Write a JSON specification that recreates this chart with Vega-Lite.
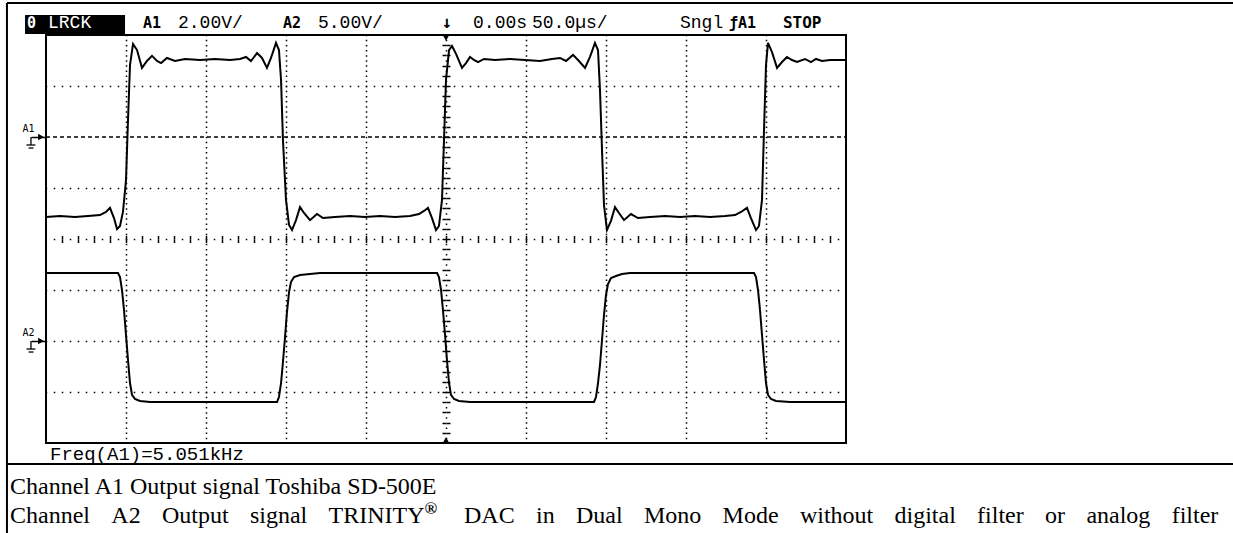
{
  "$schema": "https://vega.github.io/schema/vega-lite/v6.json",
  "width": 800,
  "height": 408,
  "autosize": "none",
  "padding": {"left": 46, "top": 35, "right": 387, "bottom": 90},
  "background": "white",
  "data": {"values": [{}]},
  "config": {
    "view": {"stroke": "black", "strokeWidth": 2},
    "axis": {"title": null, "labels": false, "ticks": false, "domain": false, "grid": false}
  },
  "datasets": {
    "a1": [
      {"t": -250, "v": -3.14}, {"t": -241.25, "v": -3.1}, {"t": -231.9, "v": -3.14}, {"t": -223.75, "v": -3.1},
      {"t": -216.25, "v": -3.06}, {"t": -212.5, "v": -2.94}, {"t": -210, "v": -2.78}, {"t": -207.5, "v": -3.18},
      {"t": -205.6, "v": -3.61}, {"t": -203.75, "v": -3.49}, {"t": -201.9, "v": -2.94}, {"t": -200, "v": -1.69},
      {"t": -198.75, "v": 0.67}, {"t": -197.5, "v": 2.82}, {"t": -195.6, "v": 3.65}, {"t": -193.1, "v": 3.41},
      {"t": -190, "v": 2.71}, {"t": -186.9, "v": 2.98}, {"t": -183.75, "v": 3.18}, {"t": -180.6, "v": 2.98},
      {"t": -178.1, "v": 2.9}, {"t": -174.4, "v": 3.1}, {"t": -169.4, "v": 2.98}, {"t": -163.1, "v": 3.06},
      {"t": -153.75, "v": 3.02}, {"t": -144.4, "v": 3.06}, {"t": -135, "v": 3.02}, {"t": -128.75, "v": 3.06},
      {"t": -125, "v": 3.14}, {"t": -121.9, "v": 2.98}, {"t": -118.1, "v": 3.29}, {"t": -115, "v": 3.1},
      {"t": -111.9, "v": 2.71}, {"t": -109.4, "v": 3.1}, {"t": -106.25, "v": 3.69}, {"t": -104.4, "v": 3.41},
      {"t": -103.1, "v": 2.24}, {"t": -101.9, "v": -0.12}, {"t": -100, "v": -2.47}, {"t": -98.1, "v": -3.45},
      {"t": -96.25, "v": -3.65}, {"t": -93.75, "v": -3.26}, {"t": -91.25, "v": -2.75}, {"t": -88.75, "v": -2.98},
      {"t": -85, "v": -3.26}, {"t": -80.6, "v": -3.02}, {"t": -76.9, "v": -3.18}, {"t": -69.4, "v": -3.14},
      {"t": -60, "v": -3.1}, {"t": -50.6, "v": -3.14}, {"t": -41.25, "v": -3.1}, {"t": -31.9, "v": -3.14},
      {"t": -22.5, "v": -3.1}, {"t": -16.9, "v": -3.02}, {"t": -13.75, "v": -2.9}, {"t": -11.25, "v": -2.78},
      {"t": -8.75, "v": -3.18}, {"t": -6.25, "v": -3.65}, {"t": -4.4, "v": -3.49}, {"t": -2.5, "v": -2.47},
      {"t": -1.25, "v": -0.12}, {"t": 0, "v": 2.24}, {"t": 1.9, "v": 3.41}, {"t": 3.75, "v": 3.57},
      {"t": 6.25, "v": 3.26}, {"t": 10, "v": 2.71}, {"t": 12.5, "v": 2.9}, {"t": 15, "v": 3.14},
      {"t": 17.5, "v": 3.02}, {"t": 20, "v": 2.94}, {"t": 23.75, "v": 3.06}, {"t": 30.6, "v": 3.02},
      {"t": 40, "v": 3.06}, {"t": 49.4, "v": 3.02}, {"t": 58.75, "v": 2.98}, {"t": 66.25, "v": 3.06},
      {"t": 71.25, "v": 3.1}, {"t": 75, "v": 2.98}, {"t": 79.4, "v": 3.22}, {"t": 83.1, "v": 2.98},
      {"t": 86.9, "v": 2.71}, {"t": 90, "v": 3.14}, {"t": 93.1, "v": 3.69}, {"t": 95, "v": 3.41},
      {"t": 96.25, "v": 1.84}, {"t": 97.5, "v": -0.51}, {"t": 98.75, "v": -2.67}, {"t": 100.6, "v": -3.65},
      {"t": 103.1, "v": -3.29}, {"t": 105.6, "v": -2.75}, {"t": 108.1, "v": -2.98}, {"t": 111.25, "v": -3.26},
      {"t": 115.6, "v": -3.02}, {"t": 120, "v": -3.18}, {"t": 127.5, "v": -3.14}, {"t": 136.9, "v": -3.1},
      {"t": 146.25, "v": -3.14}, {"t": 155.6, "v": -3.1}, {"t": 165, "v": -3.14}, {"t": 174.4, "v": -3.1},
      {"t": 180.6, "v": -3.06}, {"t": 184.4, "v": -2.94}, {"t": 188.1, "v": -2.78}, {"t": 190.6, "v": -3.18},
      {"t": 193.75, "v": -3.65}, {"t": 195.6, "v": -3.49}, {"t": 197.5, "v": -2.47}, {"t": 198.75, "v": 0.27},
      {"t": 200, "v": 2.82}, {"t": 201.25, "v": 3.69}, {"t": 203.75, "v": 3.33}, {"t": 206.9, "v": 2.71},
      {"t": 210, "v": 2.94}, {"t": 213.1, "v": 3.14}, {"t": 216.25, "v": 3.02}, {"t": 219.4, "v": 2.94},
      {"t": 224.4, "v": 3.06}, {"t": 228.1, "v": 2.94}, {"t": 231.25, "v": 3.06}, {"t": 235, "v": 2.98},
      {"t": 240, "v": 3.02}, {"t": 250, "v": 3.02}
    ],
    "a2": [
      {"t": -250, "v": 6.67}, {"t": -228.75, "v": 6.67}, {"t": -205, "v": 6.67}, {"t": -203.75, "v": 6.27},
      {"t": -202.5, "v": 5.0}, {"t": -201.25, "v": 3.04}, {"t": -200, "v": 0.59}, {"t": -198.75, "v": -1.86},
      {"t": -197.5, "v": -4.12}, {"t": -196.25, "v": -5.29}, {"t": -194.4, "v": -5.69}, {"t": -191.25, "v": -5.88},
      {"t": -185, "v": -5.98}, {"t": -153.75, "v": -5.98}, {"t": -122.5, "v": -5.98}, {"t": -105.6, "v": -5.98},
      {"t": -104.4, "v": -5.49}, {"t": -103.1, "v": -4.12}, {"t": -101.9, "v": -2.06}, {"t": -100.6, "v": 0.39},
      {"t": -99.4, "v": 2.84}, {"t": -98.1, "v": 4.8}, {"t": -96.9, "v": 5.78}, {"t": -95, "v": 6.27},
      {"t": -91.25, "v": 6.47}, {"t": -85, "v": 6.57}, {"t": -78.75, "v": 6.67}, {"t": -41.25, "v": 6.67},
      {"t": -5.6, "v": 6.67}, {"t": -4.4, "v": 6.27}, {"t": -3.1, "v": 5.0}, {"t": -1.9, "v": 3.04},
      {"t": -0.6, "v": 0.59}, {"t": 0.6, "v": -1.86}, {"t": 1.9, "v": -4.12}, {"t": 3.1, "v": -5.29},
      {"t": 5, "v": -5.69}, {"t": 8.1, "v": -5.88}, {"t": 15, "v": -5.98}, {"t": 52.5, "v": -5.98},
      {"t": 92.5, "v": -5.98}, {"t": 93.75, "v": -5.49}, {"t": 95, "v": -4.12}, {"t": 96.25, "v": -2.35},
      {"t": 97.5, "v": 0.1}, {"t": 98.75, "v": 2.55}, {"t": 100, "v": 4.51}, {"t": 101.25, "v": 5.59},
      {"t": 103.1, "v": 6.18}, {"t": 106.25, "v": 6.37}, {"t": 110, "v": 6.57}, {"t": 115, "v": 6.67},
      {"t": 158.75, "v": 6.67}, {"t": 192.5, "v": 6.67}, {"t": 193.75, "v": 6.27}, {"t": 195, "v": 5.0},
      {"t": 196.25, "v": 3.04}, {"t": 197.5, "v": 0.59}, {"t": 198.75, "v": -1.86}, {"t": 200, "v": -4.12},
      {"t": 201.25, "v": -5.29}, {"t": 203.1, "v": -5.69}, {"t": 206.25, "v": -5.88}, {"t": 215, "v": -5.98},
      {"t": 250, "v": -5.98}
    ]
  },
  "resolve": {"scale": {"y": "independent"}, "axis": {"x": "independent", "y": "independent"}},
  "layer": [
    {
      "mark": {"type": "point", "opacity": 0},
      "encoding": {
        "x": {"datum": 0, "type": "quantitative", "scale": {"domain": [-250, 250], "nice": false},
          "axis": {"orient": "bottom", "values": [-200, -150, -100, -50, 50, 100, 150, 200], "grid": true,
            "gridDash": [1.5, 3.6], "gridDashOffset": 0.75, "gridColor": "#000", "gridWidth": 1.5, "gridOpacity": 1}},
        "y": {"datum": 0, "type": "quantitative", "scale": {"domain": [-4, 4], "nice": false},
          "axis": {"orient": "left", "values": [-3, -2, -1, 1, 3], "grid": true,
            "gridDash": [1.5, 6.5], "gridDashOffset": 0.75, "gridColor": "#000", "gridWidth": 1.5, "gridOpacity": 1}}
      }
    },
    {
      "mark": {"type": "point", "opacity": 0},
      "encoding": {
        "x": {"datum": 0, "type": "quantitative", "scale": {"domain": [-250, 250], "nice": false},
          "axis": {"orient": "bottom", "offset": -204,
            "values": [-240,-230,-220,-210,-200,-190,-180,-170,-160,-150,-140,-130,-120,-110,-100,-90,-80,-70,-60,-50,-40,-30,-20,-10,0,10,20,30,40,50,60,70,80,90,100,110,120,130,140,150,160,170,180,190,200,210,220,230,240],
            "domain": true, "domainDash": [1.5, 14.5], "domainDashOffset": 8.75, "domainColor": "#000", "domainWidth": 1.5,
            "ticks": true, "tickSize": 3.5, "tickWidth": 1.5, "tickColor": "#000"}},
        "y": {"datum": 0, "type": "quantitative", "scale": {"domain": [-4, 4], "nice": false},
          "axis": {"orient": "left", "offset": -400,
            "values": [-3.8,-3.6,-3.4,-3.2,-3,-2.8,-2.6,-2.4,-2.2,-2,-1.8,-1.6,-1.4,-1.2,-1,-0.8,-0.6,-0.4,-0.2,0,0.2,0.4,0.6,0.8,1,1.2,1.4,1.6,1.8,2,2.2,2.4,2.6,2.8,3,3.2,3.4,3.6,3.8],
            "domain": true, "domainDash": [1.5, 8.7], "domainDashOffset": 5.85, "domainColor": "#000", "domainWidth": 1.5,
            "ticks": true, "tickSize": 4, "tickWidth": 1.5, "tickColor": "#000"}}
      }
    },
    {
      "mark": {"type": "point", "opacity": 0},
      "encoding": {
        "x": {"datum": 0, "type": "quantitative", "scale": {"domain": [-250, 250], "nice": false},
          "axis": {"orient": "top", "offset": -204,
            "values": [-240,-230,-220,-210,-200,-190,-180,-170,-160,-150,-140,-130,-120,-110,-100,-90,-80,-70,-60,-50,-40,-30,-20,-10,0,10,20,30,40,50,60,70,80,90,100,110,120,130,140,150,160,170,180,190,200,210,220,230,240],
            "ticks": true, "tickSize": 3.5, "tickWidth": 1.5, "tickColor": "#000"}},
        "y": {"datum": 0, "type": "quantitative", "scale": {"domain": [-4, 4], "nice": false},
          "axis": {"orient": "right", "offset": -400,
            "values": [-3.8,-3.6,-3.4,-3.2,-3,-2.8,-2.6,-2.4,-2.2,-2,-1.8,-1.6,-1.4,-1.2,-1,-0.8,-0.6,-0.4,-0.2,0,0.2,0.4,0.6,0.8,1,1.2,1.4,1.6,1.8,2,2.2,2.4,2.6,2.8,3,3.2,3.4,3.6,3.8],
            "ticks": true, "tickSize": 4, "tickWidth": 1.5, "tickColor": "#000"}}
      }
    },
    {
      "mark": {"type": "rule", "color": "#000", "strokeWidth": 1.5, "strokeDash": [4, 3]},
      "encoding": {
        "x": {"datum": -250, "type": "quantitative", "scale": {"domain": [-250, 250], "nice": false}, "axis": null},
        "x2": {"datum": 250},
        "y": {"datum": 2, "type": "quantitative", "scale": {"domain": [-4, 4], "nice": false}, "axis": null}
      }
    },
    {
      "mark": {"type": "point", "shape": "triangle-right", "filled": true, "color": "#000", "opacity": 1, "size": 45},
      "encoding": {
        "x": {"datum": -253.1, "type": "quantitative", "scale": {"domain": [-250, 250], "nice": false}, "axis": null},
        "y": {"datum": 2, "type": "quantitative", "scale": {"domain": [-4, 4], "nice": false},
          "axis": {"orient": "left", "offset": 0, "values": [2, -2], "labels": true,
            "labelExpr": "datum.value > 0 ? 'A1' : 'A2'", "labelFont": "DejaVu Sans Mono", "labelFontSize": 10,
            "labelColor": "#000", "labelAlign": "right", "labelBaseline": "alphabetic", "labelOffset": -6, "labelPadding": -3,
            "ticks": true, "tickSize": 15, "tickWidth": 1.5, "tickColor": "#000"}}
      }
    },
    {
      "mark": {"type": "point", "shape": "triangle-right", "filled": true, "color": "#000", "opacity": 1, "size": 45},
      "encoding": {
        "x": {"datum": -253.1, "type": "quantitative", "scale": {"domain": [-250, 250], "nice": false}, "axis": null},
        "y": {"datum": -2, "type": "quantitative", "scale": {"domain": [-4, 4], "nice": false}, "axis": null}
      }
    },
    {
      "mark": {"type": "rule", "color": "#000", "strokeWidth": 1.3},
      "encoding": {
        "x": {"datum": -259.4, "type": "quantitative", "scale": {"domain": [-250, 250], "nice": false}, "axis": null},
        "y": {"datum": 2, "type": "quantitative", "scale": {"domain": [-4, 4], "nice": false}, "axis": null},
        "y2": {"datum": 1.843}
      }
    },
    {
      "mark": {"type": "rule", "color": "#000", "strokeWidth": 1.3},
      "encoding": {
        "x": {"datum": -262.2, "type": "quantitative", "scale": {"domain": [-250, 250], "nice": false}, "axis": null},
        "x2": {"datum": -256.6},
        "y": {"datum": 1.843, "type": "quantitative", "scale": {"domain": [-4, 4], "nice": false}, "axis": null}
      }
    },
    {
      "mark": {"type": "rule", "color": "#000", "strokeWidth": 1.3},
      "encoding": {
        "x": {"datum": -260.9, "type": "quantitative", "scale": {"domain": [-250, 250], "nice": false}, "axis": null},
        "x2": {"datum": -257.8},
        "y": {"datum": 1.784, "type": "quantitative", "scale": {"domain": [-4, 4], "nice": false}, "axis": null}
      }
    },
    {
      "mark": {"type": "rule", "color": "#000", "strokeWidth": 1.3},
      "encoding": {
        "x": {"datum": -259.4, "type": "quantitative", "scale": {"domain": [-250, 250], "nice": false}, "axis": null},
        "y": {"datum": -2, "type": "quantitative", "scale": {"domain": [-4, 4], "nice": false}, "axis": null},
        "y2": {"datum": -2.157}
      }
    },
    {
      "mark": {"type": "rule", "color": "#000", "strokeWidth": 1.3},
      "encoding": {
        "x": {"datum": -262.2, "type": "quantitative", "scale": {"domain": [-250, 250], "nice": false}, "axis": null},
        "x2": {"datum": -256.6},
        "y": {"datum": -2.157, "type": "quantitative", "scale": {"domain": [-4, 4], "nice": false}, "axis": null}
      }
    },
    {
      "mark": {"type": "rule", "color": "#000", "strokeWidth": 1.3},
      "encoding": {
        "x": {"datum": -260.9, "type": "quantitative", "scale": {"domain": [-250, 250], "nice": false}, "axis": null},
        "x2": {"datum": -257.8},
        "y": {"datum": -2.216, "type": "quantitative", "scale": {"domain": [-4, 4], "nice": false}, "axis": null}
      }
    },
    {
      "mark": {"type": "point", "shape": "triangle-down", "filled": true, "color": "#000", "opacity": 1, "size": 40},
      "encoding": {
        "x": {"datum": 0, "type": "quantitative", "scale": {"domain": [-250, 250], "nice": false}, "axis": null},
        "y": {"datum": 3.94, "type": "quantitative", "scale": {"domain": [-4, 4], "nice": false}, "axis": null}
      }
    },
    {
      "mark": {"type": "point", "shape": "triangle-up", "filled": true, "color": "#000", "opacity": 1, "size": 40},
      "encoding": {
        "x": {"datum": 0, "type": "quantitative", "scale": {"domain": [-250, 250], "nice": false}, "axis": null},
        "y": {"datum": -3.94, "type": "quantitative", "scale": {"domain": [-4, 4], "nice": false}, "axis": null}
      }
    },
    {
      "data": {"name": "a1"},
      "mark": {"type": "line", "color": "#000", "strokeWidth": 2},
      "encoding": {
        "x": {"field": "t", "type": "quantitative", "scale": {"domain": [-250, 250], "nice": false}, "axis": null},
        "y": {"field": "v", "type": "quantitative", "scale": {"domain": [-12, 4], "nice": false, "zero": false}, "axis": null}
      }
    },
    {
      "data": {"name": "a2"},
      "mark": {"type": "line", "color": "#000", "strokeWidth": 2},
      "encoding": {
        "x": {"field": "t", "type": "quantitative", "scale": {"domain": [-250, 250], "nice": false}, "axis": null},
        "y": {"field": "v", "type": "quantitative", "scale": {"domain": [-10, 30], "nice": false, "zero": false}, "axis": null}
      }
    },
    {
      "mark": {"type": "rule", "color": "#000", "strokeWidth": 2},
      "encoding": {
        "x": {"datum": -274.4, "type": "quantitative", "scale": {"domain": [-250, 250], "nice": false}, "axis": null},
        "x2": {"datum": 495},
        "y": {"datum": 4.627, "type": "quantitative", "scale": {"domain": [-4, 4], "nice": false}, "axis": null}
      }
    },
    {
      "mark": {"type": "rule", "color": "#000", "strokeWidth": 2},
      "encoding": {
        "x": {"datum": -274.4, "type": "quantitative", "scale": {"domain": [-250, 250], "nice": false}, "axis": null},
        "x2": {"datum": 495},
        "y": {"datum": -4.412, "type": "quantitative", "scale": {"domain": [-4, 4], "nice": false}, "axis": null}
      }
    },
    {
      "mark": {"type": "rule", "color": "#000", "strokeWidth": 2},
      "encoding": {
        "x": {"datum": -274.4, "type": "quantitative", "scale": {"domain": [-250, 250], "nice": false}, "axis": null},
        "y": {"datum": 4.627, "type": "quantitative", "scale": {"domain": [-4, 4], "nice": false}, "axis": null},
        "y2": {"datum": -5.9}
      }
    },
    {
      "mark": {"type": "rect", "color": "#000"},
      "encoding": {
        "x": {"datum": -263.1, "type": "quantitative", "scale": {"domain": [-250, 250], "nice": false}, "axis": null},
        "x2": {"datum": -200.6},
        "y": {"datum": 4.392, "type": "quantitative", "scale": {"domain": [-4, 4], "nice": false}, "axis": null},
        "y2": {"datum": 4.02}
      }
    },
    {
      "mark": {"type": "text", "align": "left", "baseline": "alphabetic", "font": "DejaVu Sans Mono", "fontWeight": "bold", "fontSize": 15, "color": "#fff"},
      "encoding": {
        "x": {"datum": -261.9, "type": "quantitative", "scale": {"domain": [-250, 250], "nice": false}, "axis": null},
        "y": {"datum": 4.137, "type": "quantitative", "scale": {"domain": [-4, 4], "nice": false}, "axis": null},
        "text": {"value": "0"}
      }
    },
    {
      "mark": {"type": "text", "align": "left", "baseline": "alphabetic", "font": "Liberation Mono", "fontSize": 18, "color": "#fff"},
      "encoding": {
        "x": {"datum": -248.75, "type": "quantitative", "scale": {"domain": [-250, 250], "nice": false}, "axis": null},
        "y": {"datum": 4.137, "type": "quantitative", "scale": {"domain": [-4, 4], "nice": false}, "axis": null},
        "text": {"value": "LRCK"}
      }
    },
    {
      "mark": {"type": "text", "align": "left", "baseline": "alphabetic", "font": "DejaVu Sans Mono", "fontWeight": "bold", "fontSize": 15, "color": "#000"},
      "encoding": {
        "x": {"datum": -189.4, "type": "quantitative", "scale": {"domain": [-250, 250], "nice": false}, "axis": null},
        "y": {"datum": 4.137, "type": "quantitative", "scale": {"domain": [-4, 4], "nice": false}, "axis": null},
        "text": {"value": "A1"}
      }
    },
    {
      "mark": {"type": "text", "align": "left", "baseline": "alphabetic", "font": "Liberation Mono", "fontSize": 18, "color": "#000"},
      "encoding": {
        "x": {"datum": -167.5, "type": "quantitative", "scale": {"domain": [-250, 250], "nice": false}, "axis": null},
        "y": {"datum": 4.137, "type": "quantitative", "scale": {"domain": [-4, 4], "nice": false}, "axis": null},
        "text": {"value": "2.00V/"}
      }
    },
    {
      "mark": {"type": "text", "align": "left", "baseline": "alphabetic", "font": "DejaVu Sans Mono", "fontWeight": "bold", "fontSize": 15, "color": "#000"},
      "encoding": {
        "x": {"datum": -101.9, "type": "quantitative", "scale": {"domain": [-250, 250], "nice": false}, "axis": null},
        "y": {"datum": 4.137, "type": "quantitative", "scale": {"domain": [-4, 4], "nice": false}, "axis": null},
        "text": {"value": "A2"}
      }
    },
    {
      "mark": {"type": "text", "align": "left", "baseline": "alphabetic", "font": "Liberation Mono", "fontSize": 18, "color": "#000"},
      "encoding": {
        "x": {"datum": -80, "type": "quantitative", "scale": {"domain": [-250, 250], "nice": false}, "axis": null},
        "y": {"datum": 4.137, "type": "quantitative", "scale": {"domain": [-4, 4], "nice": false}, "axis": null},
        "text": {"value": "5.00V/"}
      }
    },
    {
      "mark": {"type": "text", "align": "center", "baseline": "alphabetic", "font": "DejaVu Sans Mono", "fontSize": 17, "fontWeight": "bold", "color": "#000"},
      "encoding": {
        "x": {"datum": 0.6, "type": "quantitative", "scale": {"domain": [-250, 250], "nice": false}, "axis": null},
        "y": {"datum": 4.137, "type": "quantitative", "scale": {"domain": [-4, 4], "nice": false}, "axis": null},
        "text": {"value": "↓"}
      }
    },
    {
      "mark": {"type": "text", "align": "left", "baseline": "alphabetic", "font": "Liberation Mono", "fontSize": 18, "color": "#000"},
      "encoding": {
        "x": {"datum": 16.9, "type": "quantitative", "scale": {"domain": [-250, 250], "nice": false}, "axis": null},
        "y": {"datum": 4.137, "type": "quantitative", "scale": {"domain": [-4, 4], "nice": false}, "axis": null},
        "text": {"value": "0.00s"}
      }
    },
    {
      "mark": {"type": "text", "align": "left", "baseline": "alphabetic", "font": "Liberation Mono", "fontSize": 18, "color": "#000"},
      "encoding": {
        "x": {"datum": 53.75, "type": "quantitative", "scale": {"domain": [-250, 250], "nice": false}, "axis": null},
        "y": {"datum": 4.137, "type": "quantitative", "scale": {"domain": [-4, 4], "nice": false}, "axis": null},
        "text": {"value": "50.0µs/"}
      }
    },
    {
      "mark": {"type": "text", "align": "left", "baseline": "alphabetic", "font": "Liberation Mono", "fontSize": 18, "color": "#000"},
      "encoding": {
        "x": {"datum": 146.25, "type": "quantitative", "scale": {"domain": [-250, 250], "nice": false}, "axis": null},
        "y": {"datum": 4.137, "type": "quantitative", "scale": {"domain": [-4, 4], "nice": false}, "axis": null},
        "text": {"value": "Sngl"}
      }
    },
    {
      "mark": {"type": "text", "align": "left", "baseline": "alphabetic", "font": "DejaVu Sans Mono", "fontWeight": "bold", "fontSize": 15, "color": "#000"},
      "encoding": {
        "x": {"datum": 176.9, "type": "quantitative", "scale": {"domain": [-250, 250], "nice": false}, "axis": null},
        "y": {"datum": 4.137, "type": "quantitative", "scale": {"domain": [-4, 4], "nice": false}, "axis": null},
        "text": {"value": "ƒA1"}
      }
    },
    {
      "mark": {"type": "text", "align": "left", "baseline": "alphabetic", "font": "DejaVu Sans Mono", "fontWeight": "bold", "fontSize": 16, "color": "#000"},
      "encoding": {
        "x": {"datum": 210.6, "type": "quantitative", "scale": {"domain": [-250, 250], "nice": false}, "axis": null},
        "y": {"datum": 4.137, "type": "quantitative", "scale": {"domain": [-4, 4], "nice": false}, "axis": null},
        "text": {"value": "STOP"}
      }
    },
    {
      "mark": {"type": "text", "align": "left", "baseline": "alphabetic", "font": "Liberation Mono", "fontSize": 19, "color": "#000"},
      "encoding": {
        "x": {"datum": -247.5, "type": "quantitative", "scale": {"domain": [-250, 250], "nice": false}, "axis": null},
        "y": {"datum": -4.333, "type": "quantitative", "scale": {"domain": [-4, 4], "nice": false}, "axis": null},
        "text": {"value": "Freq(A1)=5.051kHz"}
      }
    },
    {
      "mark": {"type": "text", "align": "left", "baseline": "alphabetic", "font": "Liberation Serif", "fontSize": 24, "color": "#000"},
      "encoding": {
        "x": {"datum": -272.5, "type": "quantitative", "scale": {"domain": [-250, 250], "nice": false}, "axis": null},
        "y": {"datum": -5.0, "type": "quantitative", "scale": {"domain": [-4, 4], "nice": false}, "axis": null},
        "text": {"value": "Channel A1 Output signal Toshiba SD-500E"}
      }
    },
    {"mark": {"type": "text", "align": "left", "baseline": "alphabetic", "font": "Liberation Serif", "fontSize": 24, "color": "#000"},
     "encoding": {"x": {"datum": -272.5, "type": "quantitative", "scale": {"domain": [-250, 250], "nice": false}, "axis": null},
       "y": {"datum": -5.569, "type": "quantitative", "scale": {"domain": [-4, 4], "nice": false}, "axis": null}, "text": {"value": "Channel"}}},
    {"mark": {"type": "text", "align": "left", "baseline": "alphabetic", "font": "Liberation Serif", "fontSize": 24, "color": "#000"},
     "encoding": {"x": {"datum": -209.19, "type": "quantitative", "scale": {"domain": [-250, 250], "nice": false}, "axis": null},
       "y": {"datum": -5.569, "type": "quantitative", "scale": {"domain": [-4, 4], "nice": false}, "axis": null}, "text": {"value": "A2"}}},
    {"mark": {"type": "text", "align": "left", "baseline": "alphabetic", "font": "Liberation Serif", "fontSize": 24, "color": "#000"},
     "encoding": {"x": {"datum": -177.56, "type": "quantitative", "scale": {"domain": [-250, 250], "nice": false}, "axis": null},
       "y": {"datum": -5.569, "type": "quantitative", "scale": {"domain": [-4, 4], "nice": false}, "axis": null}, "text": {"value": "Output"}}},
    {"mark": {"type": "text", "align": "left", "baseline": "alphabetic", "font": "Liberation Serif", "fontSize": 24, "color": "#000"},
     "encoding": {"x": {"datum": -122.56, "type": "quantitative", "scale": {"domain": [-250, 250], "nice": false}, "axis": null},
       "y": {"datum": -5.569, "type": "quantitative", "scale": {"domain": [-4, 4], "nice": false}, "axis": null}, "text": {"value": "signal"}}},
    {"mark": {"type": "text", "align": "left", "baseline": "alphabetic", "font": "Liberation Serif", "fontSize": 24, "color": "#000"},
     "encoding": {"x": {"datum": -73.44, "type": "quantitative", "scale": {"domain": [-250, 250], "nice": false}, "axis": null},
       "y": {"datum": -5.569, "type": "quantitative", "scale": {"domain": [-4, 4], "nice": false}, "axis": null}, "text": {"value": "TRINITY"}}},
    {"mark": {"type": "text", "align": "left", "baseline": "alphabetic", "font": "Liberation Serif", "fontWeight": "bold", "fontSize": 17, "color": "#000"},
     "encoding": {"x": {"datum": -13.44, "type": "quantitative", "scale": {"domain": [-250, 250], "nice": false}, "axis": null},
       "y": {"datum": -5.392, "type": "quantitative", "scale": {"domain": [-4, 4], "nice": false}, "axis": null}, "text": {"value": "®"}}},
    {"mark": {"type": "text", "align": "left", "baseline": "alphabetic", "font": "Liberation Serif", "fontSize": 24, "color": "#000"},
     "encoding": {"x": {"datum": 11.25, "type": "quantitative", "scale": {"domain": [-250, 250], "nice": false}, "axis": null},
       "y": {"datum": -5.569, "type": "quantitative", "scale": {"domain": [-4, 4], "nice": false}, "axis": null}, "text": {"value": "DAC"}}},
    {"mark": {"type": "text", "align": "left", "baseline": "alphabetic", "font": "Liberation Serif", "fontSize": 24, "color": "#000"},
     "encoding": {"x": {"datum": 56.25, "type": "quantitative", "scale": {"domain": [-250, 250], "nice": false}, "axis": null},
       "y": {"datum": -5.569, "type": "quantitative", "scale": {"domain": [-4, 4], "nice": false}, "axis": null}, "text": {"value": "in"}}},
    {"mark": {"type": "text", "align": "left", "baseline": "alphabetic", "font": "Liberation Serif", "fontSize": 24, "color": "#000"},
     "encoding": {"x": {"datum": 81.25, "type": "quantitative", "scale": {"domain": [-250, 250], "nice": false}, "axis": null},
       "y": {"datum": -5.569, "type": "quantitative", "scale": {"domain": [-4, 4], "nice": false}, "axis": null}, "text": {"value": "Dual"}}},
    {"mark": {"type": "text", "align": "left", "baseline": "alphabetic", "font": "Liberation Serif", "fontSize": 24, "color": "#000"},
     "encoding": {"x": {"datum": 123.75, "type": "quantitative", "scale": {"domain": [-250, 250], "nice": false}, "axis": null},
       "y": {"datum": -5.569, "type": "quantitative", "scale": {"domain": [-4, 4], "nice": false}, "axis": null}, "text": {"value": "Mono"}}},
    {"mark": {"type": "text", "align": "left", "baseline": "alphabetic", "font": "Liberation Serif", "fontSize": 24, "color": "#000"},
     "encoding": {"x": {"datum": 172.88, "type": "quantitative", "scale": {"domain": [-250, 250], "nice": false}, "axis": null},
       "y": {"datum": -5.569, "type": "quantitative", "scale": {"domain": [-4, 4], "nice": false}, "axis": null}, "text": {"value": "Mode"}}},
    {"mark": {"type": "text", "align": "left", "baseline": "alphabetic", "font": "Liberation Serif", "fontSize": 24, "color": "#000"},
     "encoding": {"x": {"datum": 221.19, "type": "quantitative", "scale": {"domain": [-250, 250], "nice": false}, "axis": null},
       "y": {"datum": -5.569, "type": "quantitative", "scale": {"domain": [-4, 4], "nice": false}, "axis": null}, "text": {"value": "without"}}},
    {"mark": {"type": "text", "align": "left", "baseline": "alphabetic", "font": "Liberation Serif", "fontSize": 24, "color": "#000"},
     "encoding": {"x": {"datum": 280.31, "type": "quantitative", "scale": {"domain": [-250, 250], "nice": false}, "axis": null},
       "y": {"datum": -5.569, "type": "quantitative", "scale": {"domain": [-4, 4], "nice": false}, "axis": null}, "text": {"value": "digital"}}},
    {"mark": {"type": "text", "align": "left", "baseline": "alphabetic", "font": "Liberation Serif", "fontSize": 24, "color": "#000"},
     "encoding": {"x": {"datum": 331.94, "type": "quantitative", "scale": {"domain": [-250, 250], "nice": false}, "axis": null},
       "y": {"datum": -5.569, "type": "quantitative", "scale": {"domain": [-4, 4], "nice": false}, "axis": null}, "text": {"value": "filter"}}},
    {"mark": {"type": "text", "align": "left", "baseline": "alphabetic", "font": "Liberation Serif", "fontSize": 24, "color": "#000"},
     "encoding": {"x": {"datum": 374.44, "type": "quantitative", "scale": {"domain": [-250, 250], "nice": false}, "axis": null},
       "y": {"datum": -5.569, "type": "quantitative", "scale": {"domain": [-4, 4], "nice": false}, "axis": null}, "text": {"value": "or"}}},
    {"mark": {"type": "text", "align": "left", "baseline": "alphabetic", "font": "Liberation Serif", "fontSize": 24, "color": "#000"},
     "encoding": {"x": {"datum": 400.25, "type": "quantitative", "scale": {"domain": [-250, 250], "nice": false}, "axis": null},
       "y": {"datum": -5.569, "type": "quantitative", "scale": {"domain": [-4, 4], "nice": false}, "axis": null}, "text": {"value": "analog"}}},
    {"mark": {"type": "text", "align": "left", "baseline": "alphabetic", "font": "Liberation Serif", "fontSize": 24, "color": "#000"},
     "encoding": {"x": {"datum": 453.56, "type": "quantitative", "scale": {"domain": [-250, 250], "nice": false}, "axis": null},
       "y": {"datum": -5.569, "type": "quantitative", "scale": {"domain": [-4, 4], "nice": false}, "axis": null}, "text": {"value": "filter"}}}
  ]
}
